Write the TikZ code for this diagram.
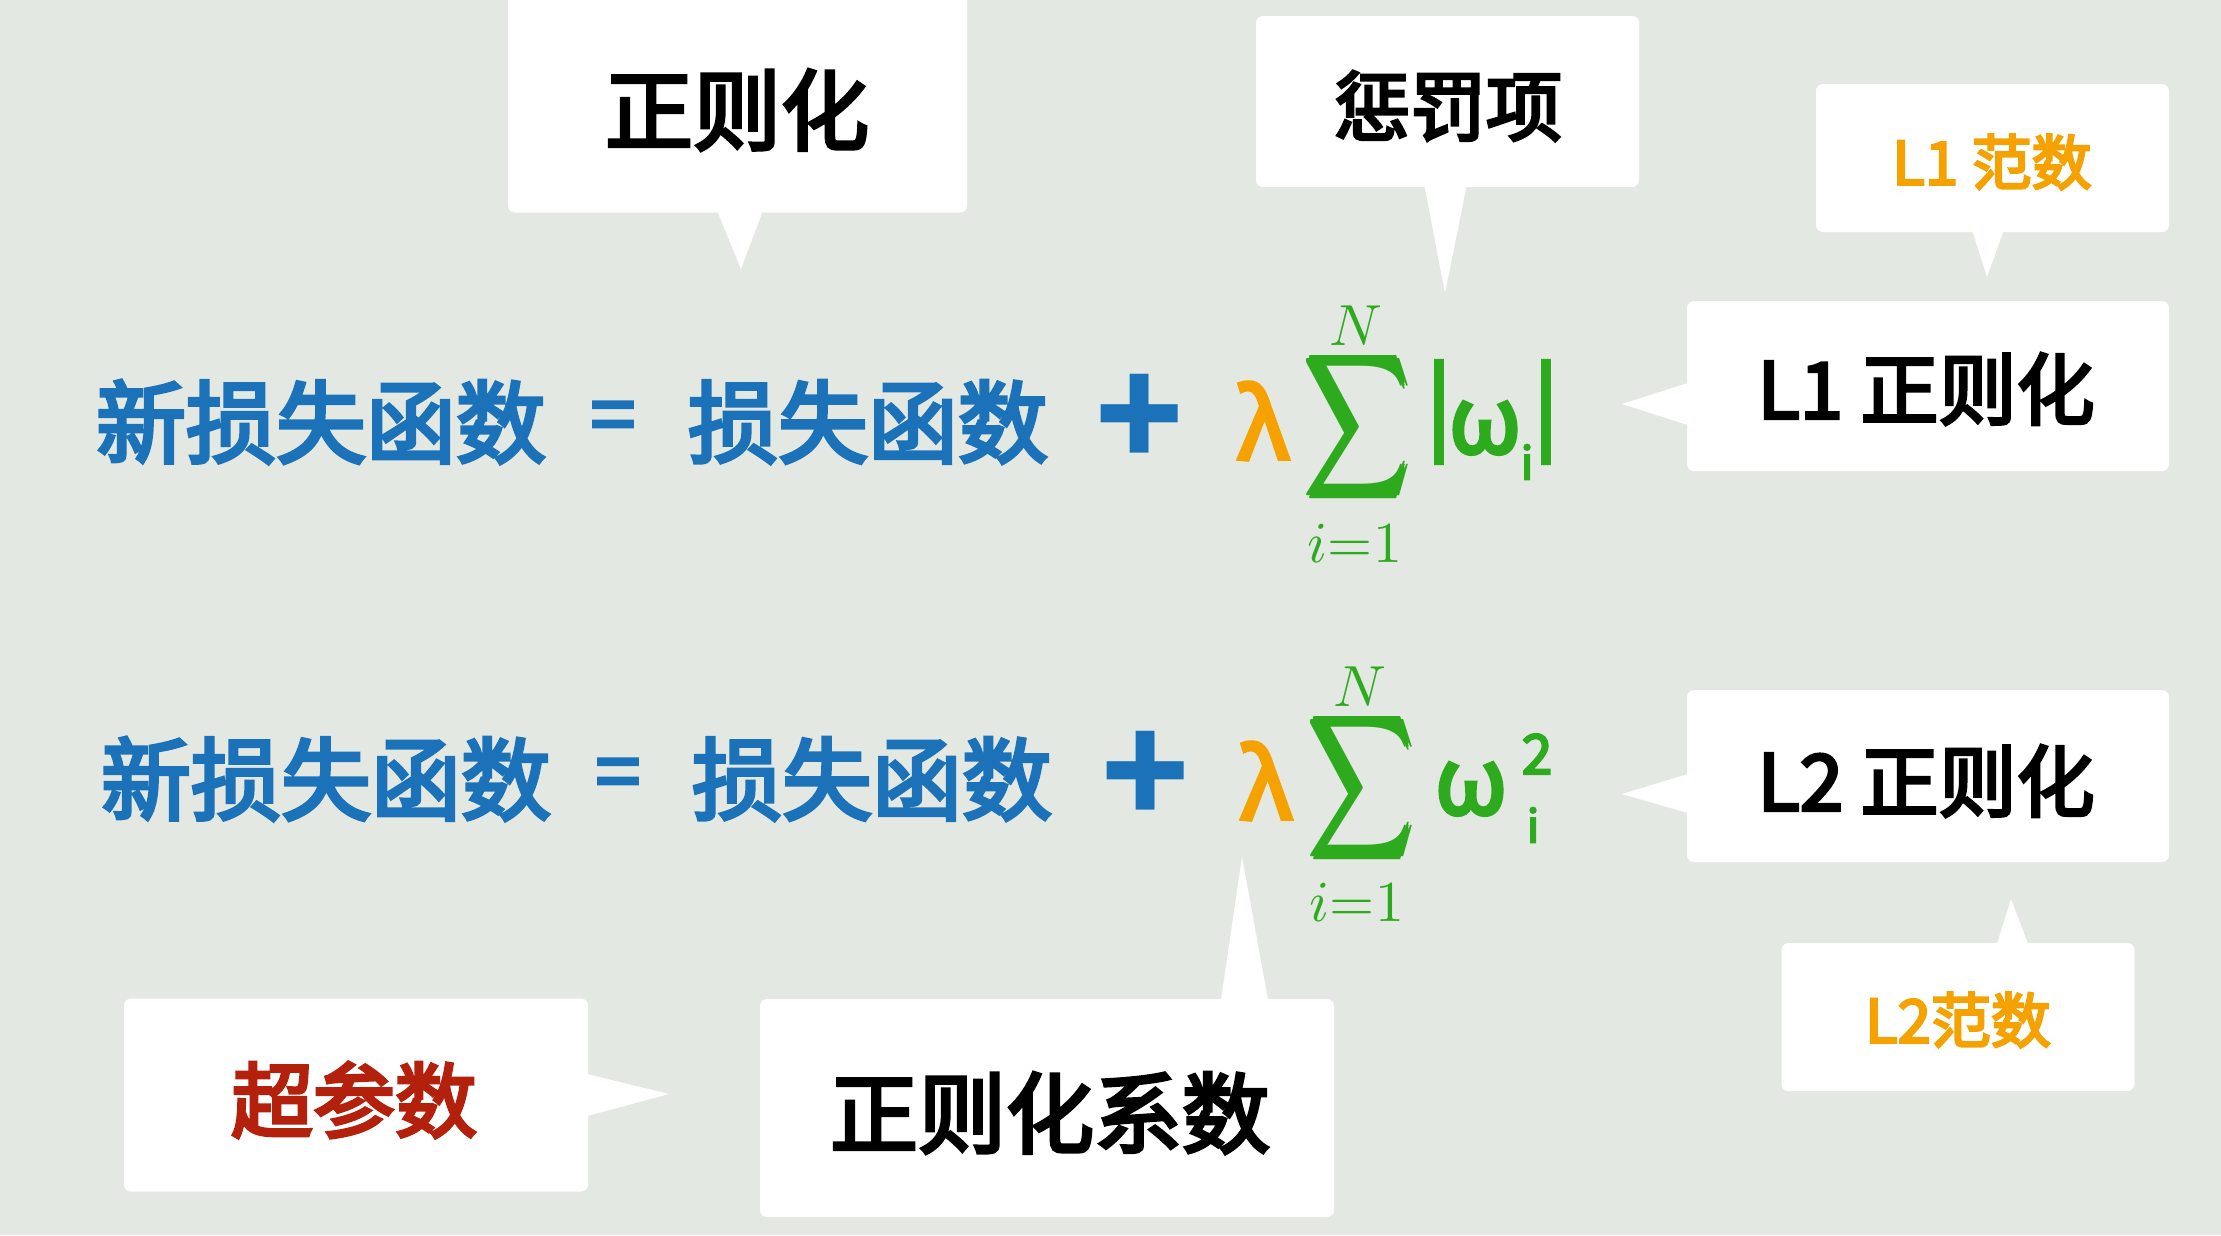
\documentclass[tikz,border=0pt]{standalone}
\usepackage{fontspec}
\usepackage{graphicx}
\usetikzlibrary{calc}
\newfontfamily\cjk{Noto Sans CJK SC}
\newfontfamily\cjkm{Noto Sans CJK SC}[FakeBold=4]
\definecolor{bg}{HTML}{E4E8E2}
\definecolor{fblue}{HTML}{1B72B8}
\definecolor{forange}{HTML}{F5A200}
\definecolor{fgreen}{HTML}{2DAA1E}
\definecolor{fred}{HTML}{B3200C}
\newcommand{\fs}[1]{\fontsize{#1}{#1}\selectfont}
\newsavebox{\thkbox}
% draw a glyph box several times with small offsets to thicken thin strokes
\newcommand{\thick}[2]{\sbox{\thkbox}{#2}%
  \rlap{\kern-#1\usebox{\thkbox}}\rlap{\kern#1\usebox{\thkbox}}%
  \rlap{\raisebox{#1}{\usebox{\thkbox}}}\rlap{\raisebox{-#1}{\usebox{\thkbox}}}%
  \usebox{\thkbox}}
\tikzset{
  callbox/.style={fill=white, rounded corners=7pt, inner sep=0pt},
  tailfill/.style={fill=white},
  ftxt/.style={inner sep=0pt},
  mtxt/.style={inner sep=0pt, text=fgreen},
}
\begin{document}
\begin{tikzpicture}[x=1pt,y=-1pt]
\useasboundingbox (0,0) rectangle (2221,1235);
\clip (0,0) rectangle (2221,1235);
\fill[bg] (0,0) rectangle (2221,1235);

% ---------- callout boxes ----------
\node[callbox, minimum width=459, minimum height=223] (b1) at (737.5,101) {};
\coordinate (t1) at (741,269);
\fill[tailfill] ($(b1.south)+(-20,-1)$) -- (t1) -- ($(b1.south)+(25,-1)$) -- cycle;
\node[ftxt, font=\cjkm\fs{88}] (b1t) at (737,110) {正则化};

\node[callbox, minimum width=383, minimum height=171] (b2) at (1447.5,101.5) {};
\coordinate (t2) at (1445,293);
\fill[tailfill] ($(b2.south)+(-23,-1)$) -- (t2) -- ($(b2.south)+(19,-1)$) -- cycle;
\node[ftxt, font=\cjkm\fs{76}] (b2t) at (1448,106) {惩罚项};

\node[callbox, minimum width=353, minimum height=148] (b3) at (1992.5,158) {};
\coordinate (t3) at (1987,277);
\fill[tailfill] ($(b3.south)+(-20,-1)$) -- (t3) -- ($(b3.south)+(11,-1)$) -- cycle;
\node[ftxt, font=\cjkm\fs{60}, text=forange] (b3t) at (1992,162) {L1 范数};

\node[callbox, minimum width=482, minimum height=170] (b4) at (1928,386) {};
\coordinate (t4) at (1622,404);
\fill[tailfill] ($(b4.west)+(1,-3)$) -- (t4) -- ($(b4.west)+(1,39)$) -- cycle;
\node[ftxt, font=\cjkm\fs{78}] (b4t) at (1926,389) {L1 正则化};

\node[callbox, minimum width=482, minimum height=172] (b5) at (1928,776) {};
\coordinate (t5) at (1622,794);
\fill[tailfill] ($(b5.west)+(1,-2)$) -- (t5) -- ($(b5.west)+(1,37)$) -- cycle;
\node[ftxt, font=\cjkm\fs{78}] (b5t) at (1926,781) {L2 正则化};

\node[callbox, minimum width=353, minimum height=148] (b6) at (1958,1017) {};
\coordinate (t6) at (2011,899);
\fill[tailfill] ($(b6.north)+(39,1)$) -- (t6) -- ($(b6.north)+(70,1)$) -- cycle;
\node[ftxt, font=\cjkm\fs{60}, text=forange] (b6t) at (1958,1020) {L2范数};

\node[callbox, minimum width=574, minimum height=218] (b7) at (1047,1108) {};
\coordinate (t7) at (1242,857);
\fill[tailfill] ($(b7.north)+(174,1)$) -- (t7) -- ($(b7.north)+(221,1)$) -- cycle;
\node[ftxt, font=\cjkm\fs{88}] (b7t) at (1050,1113) {正则化系数};

\node[callbox, minimum width=464, minimum height=193] (b8) at (356,1095) {};
\coordinate (t8) at (669,1094);
\fill[tailfill] ($(b8.east)+(-1,-21)$) -- (t8) -- ($(b8.east)+(-1,21)$) -- cycle;
\node[ftxt, font=\cjkm\fs{82}, text=fred] (b8t) at (354,1100) {超参数};

% ---------- formula 1 ----------
\node[ftxt, text=fblue, font=\cjkm\fs{90}] (f1a) at (321,422) {新损失函数};
\node[ftxt, text=fblue, font=\cjkm\fs{80}] (f1eq) at (613,423) {=};
\node[ftxt, text=fblue, font=\cjkm\fs{90}] (f1b) at (868,422) {损失函数};
\node[ftxt, text=fblue, font=\cjk\bfseries\fs{145}] (f1p) at (1140,421) {+};
\node[ftxt, text=forange, font=\cjkm\fs{95}] (f1l) at (1263,421) {λ};
\node[mtxt] (f1s) at (1357,427) {\thick{3pt}{\scalebox{7.2}[9.8]{$\displaystyle\sum$}}};
\node[mtxt] (f1N) at (1356,326) {\scalebox{5.8}{$N$}};
\node[mtxt] (f1i) at (1355,543) {\scalebox{5.8}{$i{=}1$}};
\node[ftxt, text=fgreen, font=\cjkm\fs{92}] (f1v1) at (1439,412) {|};
\node[ftxt, text=fgreen, font=\cjkm\fs{92}] (f1w) at (1485,428) {ω};
\node[ftxt, text=fgreen, font=\cjkm\fs{45}] (f1sub) at (1527,462) {i};
\node[ftxt, text=fgreen, font=\cjkm\fs{92}] (f1v2) at (1546,412) {|};

% ---------- formula 2 ----------
\node[ftxt, text=fblue, font=\cjkm\fs{90}] (f2a) at (326,779) {新损失函数};
\node[ftxt, text=fblue, font=\cjkm\fs{80}] (f2eq) at (618,780) {=};
\node[ftxt, text=fblue, font=\cjkm\fs{90}] (f2b) at (872,779) {损失函数};
\node[ftxt, text=fblue, font=\cjk\bfseries\fs{145}] (f2p) at (1146,778) {+};
\node[ftxt, text=forange, font=\cjkm\fs{95}] (f2l) at (1266,781) {λ};
\node[mtxt] (f2s) at (1361,788) {\thick{3pt}{\scalebox{7.2}[9.8]{$\displaystyle\sum$}}};
\node[mtxt] (f2N) at (1360,687) {\scalebox{5.8}{$N$}};
\node[mtxt] (f2i) at (1357,902) {\scalebox{5.8}{$i{=}1$}};
\node[ftxt, text=fgreen, font=\cjkm\fs{92}] (f2w) at (1471,789) {ω};
\node[ftxt, text=fgreen, font=\cjkm\fs{55}] (f2sup) at (1537,754) {2};
\node[ftxt, text=fgreen, font=\cjkm\fs{45}] (f2sub) at (1533,825) {i};
\end{tikzpicture}
\end{document}
